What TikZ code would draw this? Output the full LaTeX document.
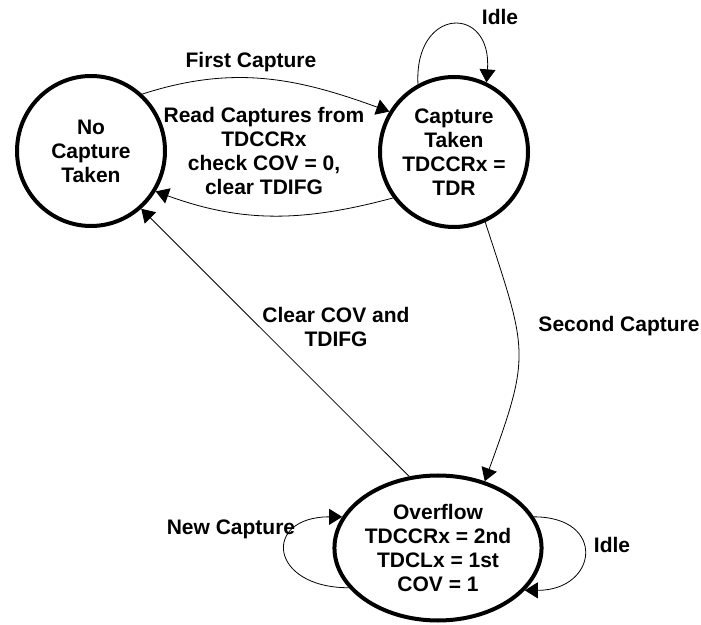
\documentclass[tikz,border=0pt]{standalone}
\usepackage{fontspec}
\setmainfont{Liberation Sans}
\usepackage{tikz}
\usetikzlibrary{arrows.meta,shapes.geometric}
\tikzset{
  sarrow/.style={-{Triangle[length=13pt,width=16pt]}, line width=0.8pt},
  statenode/.style={draw, ellipse, line width=4pt, inner sep=0pt, align=center,
    font=\fontsize{21}{24}\selectfont\bfseries},
  lbl/.style={align=center, inner sep=0pt, font=\fontsize{21}{24}\selectfont\bfseries}
}
\begin{document}
\begin{tikzpicture}[x=1pt, y=1pt]
    \useasboundingbox (0,0) rectangle (701,624);
    \node[statenode, minimum width=148pt, minimum height=150pt] (nocap) at (91,473) {No\\Capture\\Taken};
    \node[statenode, minimum width=148pt, minimum height=150pt] (taken) at (454,472) {Capture\\Taken\\TDCCRx =\\TDR};
    \node[statenode, minimum width=186pt, minimum height=145pt] (ovf) at (438,76) {Overflow\\TDCCRx = 2nd\\TDCLx = 1st\\COV = 1};
    \node[lbl] (lidle) at (500,607) {Idle};
    \node[lbl] (lfirst) at (251,562) {First Capture};
    \node[lbl] (lread) at (264,473) {Read Captures from\\TDCCRx\\check COV = 0,\\clear TDIFG};
    \node[lbl] (lclear) at (336,297) {Clear COV and\\TDIFG};
    \node[lbl] (lsecond) at (619,298) {Second Capture};
    \node[lbl] (lnew) at (231,95) {New Capture};
    \node[lbl] (lidleb) at (612,79) {Idle};
    \draw[sarrow] (nocap.48) to[out=18,in=160] (taken.148);
    \draw[sarrow] (taken.217) to[out=195,in=-20] (nocap.-32);
    \draw[sarrow] (taken.118) .. controls +(-4,78) and +(6,78) .. (taken.65);
    \draw[sarrow] (taken.-66) to[out=-72,in=70,looseness=1.35] (ovf.55);
    \draw[sarrow] (ovf.112) -- (nocap.-49);
    \draw[sarrow] (ovf.204) .. controls +(-80,0) and +(-80,0) .. (ovf.162);
    \draw[sarrow] (ovf.18) .. controls +(73,0) and +(73,0) .. (ovf.-26);
  \end{tikzpicture}
\end{document}
